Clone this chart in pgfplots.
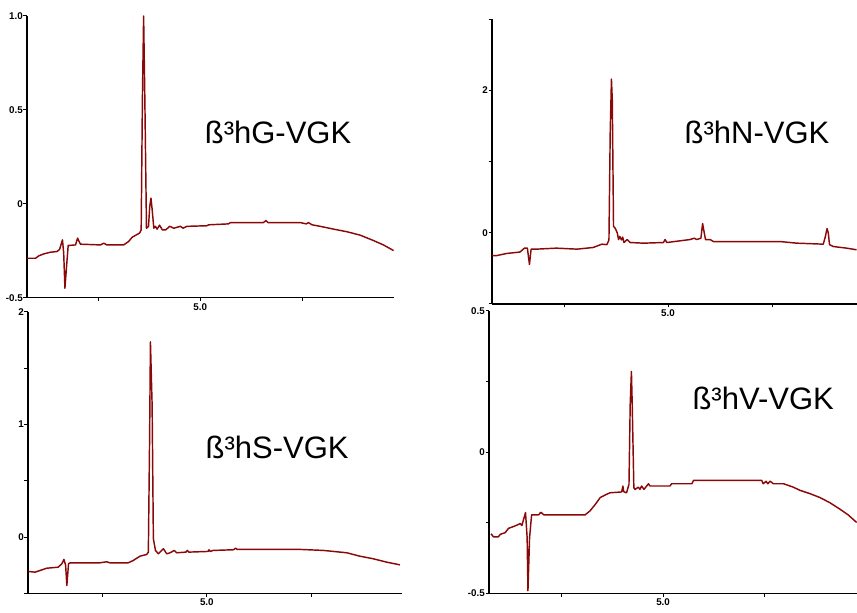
\documentclass[border=0pt]{standalone}
\usepackage{pgfplots}
\pgfplotsset{compat=1.18}
\usepackage{fontspec}
\setmainfont{Liberation Sans}
\definecolor{trace}{RGB}{139,8,8}
\pgfplotsset{
  chrom/.style={
    scale only axis,
    anchor=south west,
    axis lines=left,
    axis line style={-, line width=1.5pt, black},
    tick align=outside,
    major tick length=3.5pt,
    tick style={line width=1pt, black},
    clip=false,
    /pgf/number format/assume math mode=true,
    tick label style={font=\fontsize{9.8}{10}\selectfont\bfseries},
    yticklabel style={inner xsep=0.5pt},
    xticklabel style={inner ysep=2pt},
    xtick={2.5,5,7.5},
    xticklabels={,5.0,},
  },
  trace/.style={color=trace, line width=1.45pt, line join=round, mark=none},
}
\newcommand{\lab}[1]{\fontsize{31}{31}\selectfont #1}
\begin{document}
\begin{tikzpicture}[x=1pt,y=1pt]
\path[use as bounding box] (0,0) rectangle (857,613);
% ---------- panel 1: G ----------
\begin{axis}[chrom, at={(27pt,315.3pt)}, width=367pt, height=281.7pt,
  xmin=0.75, xmax=9.75, ymin=-0.5, ymax=1.0,
  ytick={-0.5,0,0.5,1}, yticklabels={-0.5,0,0.5,1.0}]
\addplot[trace] coordinates {
(0.75,-0.29) (0.96,-0.29) (1.04,-0.277) (1.16,-0.267) (1.32,-0.258) (1.49,-0.254)
(1.55,-0.242) (1.62,-0.192) (1.65,-0.263) (1.68,-0.45) (1.72,-0.334) (1.76,-0.222)
(1.94,-0.219) (1.99,-0.183) (2.06,-0.215) (2.55,-0.219) (2.63,-0.21) (2.71,-0.219)
(3.12,-0.219) (3.24,-0.201) (3.33,-0.178) (3.51,-0.156) (3.55,-0.139) (3.58,0.555)
(3.61,1.0) (3.64,0.555) (3.68,-0.13) (3.73,-0.12) (3.76,-0.014) (3.79,0.03)
(3.82,-0.032) (3.86,-0.13) (3.90,-0.12) (3.94,-0.135) (4.0,-0.114) (4.07,-0.139)
(4.15,-0.139) (4.25,-0.12) (4.35,-0.13) (4.51,-0.12) (4.58,-0.13) (4.67,-0.12)
(5.16,-0.117) (5.2,-0.112) (5.69,-0.107) (5.74,-0.10) (6.55,-0.10) (6.61,-0.089)
(6.66,-0.10) (7.45,-0.10) (7.6,-0.107) (7.65,-0.10) (7.74,-0.112) (7.94,-0.12)
(8.27,-0.135) (8.60,-0.149) (8.92,-0.167) (9.25,-0.196) (9.49,-0.219) (9.74,-0.249)
};
\node[inner sep=0pt] at (rel axis cs:0.684,0.585) {\lab{ß³hG-VGK}};
\end{axis}
% ---------- panel 2: N ----------
\begin{axis}[chrom, at={(492pt,309pt)}, width=365pt, height=284.6pt,
  xmin=0.77, xmax=9.54, ymin=-1, ymax=3,
  ytick={-1,0,1,2,3}, yticklabels={,0,,2,}]
\addplot[trace] coordinates {
(0.77,-0.319) (0.88,-0.32) (1.12,-0.29) (1.44,-0.27) (1.55,-0.215) (1.62,-0.215)
(1.67,-0.445) (1.71,-0.229) (1.84,-0.229) (2.32,-0.215) (2.81,-0.229) (3.2,-0.206)
(3.41,-0.159) (3.53,-0.166) (3.58,-0.1) (3.61,1.4) (3.64,2.16) (3.66,1.87)
(3.69,0.09) (3.73,0.065) (3.78,0) (3.81,-0.094) (3.84,-0.05) (3.88,-0.1)
(3.91,-0.06) (3.94,-0.136) (4.02,-0.094) (4.09,-0.136) (4.41,-0.145) (4.89,-0.136)
(4.93,-0.094) (4.97,-0.136) (5.53,-0.094) (5.63,-0.075) (5.69,-0.094) (5.79,-0.075)
(5.83,0.131) (5.87,0) (5.9,-0.094) (6.01,-0.094) (6.09,-0.122) (7.69,-0.122)
(8.09,-0.145) (8.73,-0.159) (8.78,-0.052) (8.82,0.06) (8.85,0) (8.88,-0.166)
(8.97,-0.192) (9.29,-0.215) (9.53,-0.238)
};
\node[inner sep=0pt] at (rel axis cs:0.726,0.604) {\lab{ß³hN-VGK}};
\end{axis}
% ---------- panel 3: S ----------
\begin{axis}[chrom, at={(28pt,19.7pt)}, width=374pt, height=281.3pt,
  xmin=0.72, xmax=9.67, ymin=-0.5, ymax=2,
  ytick={-0.5,0,0.5,1,1.5,2}, yticklabels={,0,,1,,2}]
\addplot[trace] coordinates {
(0.73,-0.306) (0.89,-0.312) (1.01,-0.297) (1.17,-0.277) (1.44,-0.268) (1.53,-0.238)
(1.58,-0.199) (1.62,-0.25) (1.65,-0.431) (1.69,-0.238) (1.73,-0.229) (2.44,-0.229)
(2.6,-0.22) (2.68,-0.229) (3.12,-0.229) (3.24,-0.208) (3.4,-0.17) (3.56,-0.155)
(3.6,-0.134) (3.63,0.878) (3.65,1.735) (3.69,1.176) (3.72,-0.015) (3.77,-0.119)
(3.84,-0.149) (3.96,-0.104) (4.04,-0.149) (4.12,-0.14) (4.22,-0.119) (4.28,-0.14)
(4.5,-0.134) (4.53,-0.119) (4.57,-0.134) (5.03,-0.128) (5.05,-0.113) (5.08,-0.128)
(5.15,-0.119) (5.64,-0.113) (5.69,-0.098) (5.72,-0.11) (7.23,-0.11) (7.79,-0.119)
(8.35,-0.14) (8.66,-0.17) (8.98,-0.193) (9.3,-0.223) (9.62,-0.247)
};
\node[inner sep=0pt] at (rel axis cs:0.666,0.52) {\lab{ß³hS-VGK}};
\end{axis}
% ---------- panel 4: V ----------
\begin{axis}[chrom, at={(489pt,19.7pt)}, width=368pt, height=282.3pt,
  xmin=0.71, xmax=9.78, ymin=-0.5, ymax=0.5,
  ytick={-0.5,-0.25,0,0.25,0.5}, yticklabels={-0.5,,0,,0.5}]
\addplot[trace] coordinates {
(0.76,-0.289) (0.82,-0.3) (0.94,-0.3) (0.99,-0.291) (1.11,-0.285) (1.19,-0.27)
(1.36,-0.261) (1.48,-0.253) (1.52,-0.26) (1.61,-0.214) (1.65,-0.303) (1.67,-0.491)
(1.71,-0.303) (1.76,-0.222) (1.93,-0.222) (1.99,-0.213) (2.06,-0.222) (3.08,-0.222)
(3.2,-0.208) (3.33,-0.185) (3.45,-0.161) (3.57,-0.152) (3.69,-0.144) (3.98,-0.141)
(4.01,-0.12) (4.03,-0.14) (4.1,-0.144) (4.16,-0.114) (4.19,0.169) (4.22,0.286)
(4.24,0.169) (4.28,-0.126) (4.31,-0.132) (4.39,-0.124) (4.43,-0.132) (4.47,-0.12)
(4.53,-0.132) (4.64,-0.112) (4.68,-0.12) (5.17,-0.12) (5.21,-0.112) (5.71,-0.112)
(5.75,-0.1) (7.43,-0.1) (7.47,-0.112) (7.54,-0.103) (7.58,-0.112) (7.64,-0.103)
(7.72,-0.112) (7.97,-0.112) (8.21,-0.124) (8.37,-0.135) (8.62,-0.147) (8.87,-0.161)
(9.11,-0.179) (9.36,-0.202) (9.56,-0.222) (9.77,-0.249)
};
\node[inner sep=0pt] at (rel axis cs:0.745,0.692) {\lab{ß³hV-VGK}};
\end{axis}
\end{tikzpicture}
\end{document}
